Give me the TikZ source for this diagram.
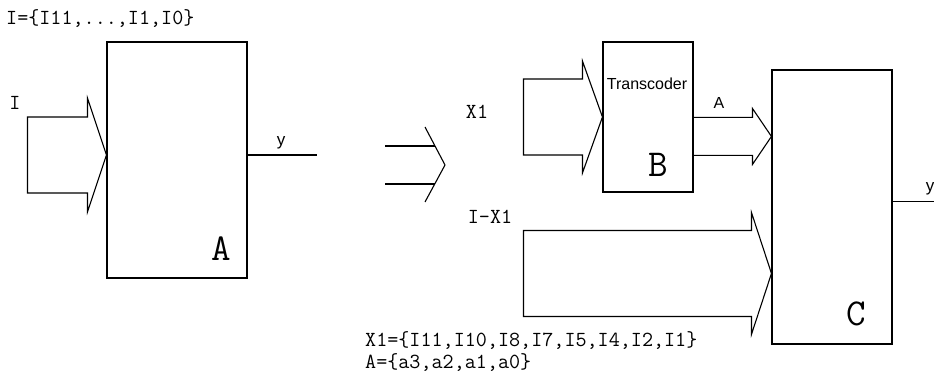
\documentclass[tikz,border=0pt]{standalone}
\usepackage{fontspec}
\setmainfont{Liberation Sans}
\usetikzlibrary{calc, positioning}

% tip, half body, half head, length, head length
\newcommand\busarrow[5]{%
  \draw[wire] (#1) -- ++(-#5,-#3) -- ++(0,#3-#2) -- ++(#5-#4,0) -- ++(0,2*#2)
    -- ++(#4-#5,0) -- ++(0,#3-#2) -- cycle;}

\begin{document}
\begin{tikzpicture}[x=1pt, y=-1pt,
    block/.style={draw, line width=1.1pt, inner sep=0pt},
    wire/.style={line width=1.1pt},
    code/.style={font=\ttfamily\fontsize{21.5}{24}\selectfont, inner sep=0pt},
    tag/.style={font=\ttfamily\fontsize{38}{42}\selectfont, inner sep=0pt},
    small/.style={font=\fontsize{16}{18}\selectfont, inner sep=0pt},
    outlab/.style={font=\fontsize{17}{19}\selectfont, inner sep=0pt},
  ]
  \useasboundingbox (0,0) rectangle (934,390);

  \node[block, minimum width=140pt, minimum height=236pt] (A) at (177,160) {};
  \node[block, minimum width=90pt, minimum height=150pt] (B) at (648,117) {};
  \node[block, minimum width=120pt, minimum height=274pt] (C) at (832,207) {};

  \node[tag] (Atag) at (221,249) {A};
  \node[tag] (Btag) at (658,165) {B};
  \node[tag] (Ctag) at (856,314) {C};

  \node[code, anchor=west] (Iset) at (6,19) {I=\{I11,...,I1,I0\}};
  \node[code] (Ilab) at (15,103) {I};
  \node[code] (X1lab) at (477,112) {X1};
  \node[code] (IX1lab) at (490,217) {I-X1};
  \node[code, anchor=west] (X1set) at (365,341) {X1=\{I11,I10,I8,I7,I5,I4,I2,I1\}};
  \node[code, anchor=west] (Aset) at (365,363) {A=\{a3,a2,a1,a0\}};

  \node[small] (Trans) at (647,84) {Transcoder};
  \node[small] (Alab) at (719,103) {A};
  \node[outlab] (yA) at (281,143) {y};
  \node[outlab] (yC) at (930,189) {y};

  \coordinate (Ain) at ($(A.west)+(0,-5)$);
  \busarrow{Ain}{38}{57}{79}{19}
  \coordinate (Aout) at ($(A.east)+(69,-5)$);
  \draw[wire] (A.east |- Aout) -- (Aout);

  \coordinate (imp) at (445,165);
  \draw[wire] ($(imp)+(-60,-19)$) -- ++(50,0);
  \draw[wire] ($(imp)+(-60,19)$) -- ++(50,0);
  \draw[wire] ($(imp)+(-20,-38)$) -- (imp) -- ($(imp)+(-20,37)$);

  \busarrow{B.west}{38}{56}{79}{20}

  \coordinate (Cab) at ($(C.north west)+(0,67)$);
  \draw[wire] ($(Cab)+(-79,-19)$) -- ++(60,0) -- ++(0,-9) -- (Cab)
    -- ($(Cab)+(-19,28)$) -- ++(0,-9) -- ++(-60,0);

  \coordinate (Cin) at ($(C.north west)+(0,204)$);
  \busarrow{Cin}{43}{61}{248}{20}

  \coordinate (Cout) at ($(C.north east)+(42,132)$);
  \draw[wire] ($(C.north east)+(0,132)$) -- (Cout);
\end{tikzpicture}
\end{document}
